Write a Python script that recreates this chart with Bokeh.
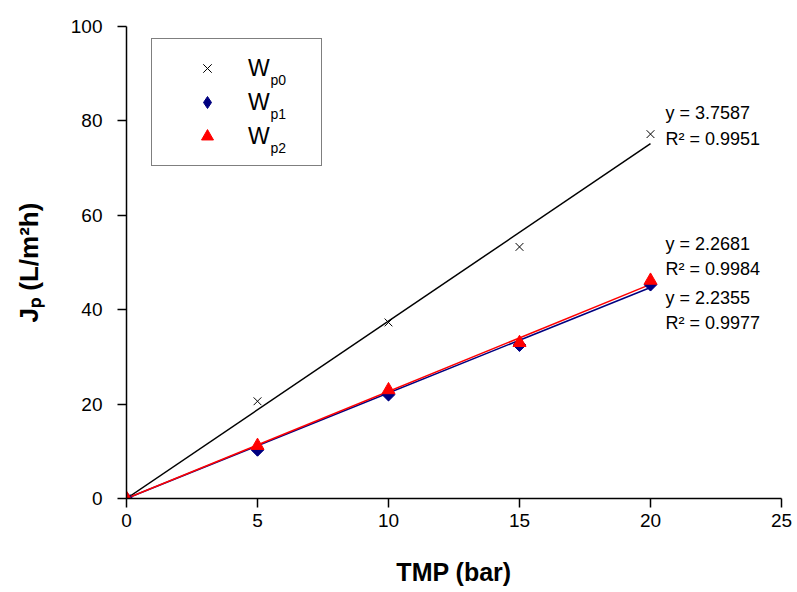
import numpy as np
from bokeh.plotting import figure
from bokeh.models import Range1d, Label, Legend, LegendItem, FixedTicker
from bokeh.embed import file_html
from bokeh.resources import INLINE

# ---- data ----
tmp = [0, 5, 10, 15, 20]
wp0 = [0, 20.6, 37.3, 53.3, 77.2]
wp1 = [0, 10.3, 22.0, 32.5, 45.3]
wp2 = [0, 11.2, 23.0, 33.0, 46.2]
slope0, r2_0 = 3.7587, 0.9951
slope1, r2_1 = 2.2355, 0.9977
slope2, r2_2 = 2.2681, 0.9984
x_ticks = [0, 5, 10, 15, 20, 25]
y_ticks = [0, 20, 40, 60, 80, 100]
series_subs = ["p0", "p1", "p2"]

FONT = "Liberation Sans"

p = figure(width=797, height=592, output_backend="svg", toolbar_location=None,
           x_range=Range1d(0, 25), y_range=Range1d(0, 100),
           min_border_left=126, min_border_right=16, min_border_top=26, min_border_bottom=94)
p.outline_line_color = None
p.grid.visible = False
p.background_fill_color = "white"

for ax in (p.xaxis[0], p.yaxis[0]):
    ax.axis_line_color = "black"
    ax.axis_line_width = 1.5
    ax.major_tick_line_color = "black"
    ax.major_tick_line_width = 1.5
    ax.major_tick_out = 9
    ax.major_tick_in = 0
    ax.minor_tick_line_color = None
    ax.major_label_text_font = FONT
    ax.major_label_text_font_size = "19px"
    ax.major_label_text_color = "black"
    ax.axis_label_text_font = FONT
    ax.axis_label_text_font_style = "bold"
    ax.axis_label_text_color = "black"

p.xaxis.major_label_standoff = 6
p.yaxis.major_label_standoff = 15
p.xaxis.ticker = FixedTicker(ticks=x_ticks)
p.yaxis.ticker = FixedTicker(ticks=y_ticks)
p.xaxis.axis_label = "TMP (bar)"
p.xaxis.axis_label_text_font_size = "25px"
p.xaxis.axis_label_standoff = 28
p.yaxis.axis_label = "J\u209a (L/m\u00b2h)"
p.yaxis.axis_label_text_font_size = "26px"
p.yaxis.axis_label_standoff = 24

# trend lines (through origin)
xl = np.array([tmp[0], tmp[-1]], dtype=float)
p.line(xl, slope0 * xl, line_color="black", line_width=1.5)
p.line(xl, slope1 * xl, line_color="#000080", line_width=1.5)
p.line(xl, slope2 * xl, line_color="red", line_width=1.5)

r0 = p.scatter(tmp, wp0, marker="x", size=11, line_color="black", line_width=1)
# rotated squares give the symmetric diamond; the inner "diamond" marker supplies the legend key
p.scatter(tmp, wp1, marker="square", angle=np.pi / 4, size=9,
          fill_color="#000080", line_color="#000080")
r1 = p.scatter(tmp, wp1, marker="diamond", size=12, fill_color="#000080", line_color="#000080")
r2 = p.scatter(tmp, wp2, marker="triangle", size=13, fill_color="red", line_color="red")

legend = Legend(items=[LegendItem(label="W", renderers=[r0]),
                       LegendItem(label="W", renderers=[r1]),
                       LegendItem(label="W", renderers=[r2])],
                location=(25, 332), padding=14, spacing=4,
                glyph_width=82, glyph_height=30, label_height=30, label_width=59,
                label_standoff=0, margin=0,
                label_text_font=FONT, label_text_font_size="23px", label_text_color="black",
                border_line_color="black", border_line_width=1.5,
                background_fill_alpha=0.0)
p.add_layout(legend, "center")

# subscripts in the legend
for i, s in enumerate(series_subs):
    p.add_layout(Label(x=144, y=419 - 34 * i, x_units="screen", y_units="screen",
                       text=s, text_font=FONT, text_font_size="14px", level="overlay",
                       text_baseline="alphabetic", text_color="black"))

# trendline equations
ann = [("y = %.4f" % slope0, 81.6), ("R\u00b2 = %.4f" % r2_0, 76.1),
       ("y = %.4f" % slope2, 54.0), ("R\u00b2 = %.4f" % r2_2, 48.7),
       ("y = %.4f" % slope1, 42.4), ("R\u00b2 = %.4f" % r2_1, 37.1)]
for t, yy in ann:
    p.add_layout(Label(x=20.57, y=yy, text=t, text_font=FONT, text_font_size="18px",
                       text_baseline="middle", text_color="black"))

open("out.html", "w").write(file_html(p, INLINE))
